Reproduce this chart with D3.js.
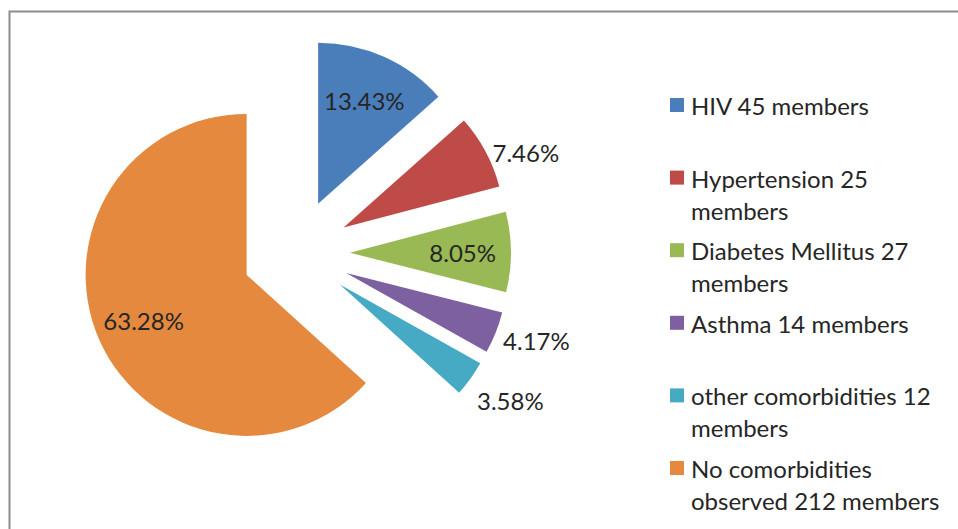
<!DOCTYPE html>
<html>
<head>
<meta charset="utf-8">
<script src="https://cdn.jsdelivr.net/npm/d3@7"></script>
<style>
    html, body { margin: 0; padding: 0; background: #fff; }
    svg { display: block; }
    text { font-family: Lato, "Open Sans", sans-serif; fill: #262626; }
</style>
</head>
<body>
<svg id="chart" width="958" height="529"></svg>
<script>
// values
const categories = ["HIV", "Hypertension", "Diabetes Mellitus", "Asthma", "other comorbidities", "No comorbidities observed"];
const members = [45, 25, 27, 14, 12, 212];
const percentLabels = ["13.43%", "7.46%", "8.05%", "4.17%", "3.58%", "63.28%"];
const colors = ["#4a7ebb", "#be4b48", "#98b954", "#7d60a0", "#46aac5", "#e4893d"];

const width = 958, height = 529;
const center = {x: 296, y: 253};
const radius = 161;
const explode = 54;
const fontSize = 24;

const svg = d3.select("#chart");

// frame (only top and left edges are visible in the crop)
svg.append("path")
    .attr("d", `M9.5,${height} V11.5 H${width}`)
    .attr("fill", "none")
    .attr("stroke", "#8c8c8c")
    .attr("stroke-width", 2);

const data = categories.map((c, i) => ({name: c, value: members[i], label: percentLabels[i], color: colors[i]}));

const pie = d3.pie().sort(null).value(d => d.value);
const arcs = pie(data);

const arc = d3.arc().innerRadius(0).outerRadius(radius);
const inLabel = d3.arc().innerRadius(radius * 0.7).outerRadius(radius * 0.7);
const outLabel = d3.arc().innerRadius(radius + 8).outerRadius(radius + 8);

const shift = d => {
    const mid = (d.startAngle + d.endAngle) / 2;
    return [explode * Math.sin(mid), -explode * Math.cos(mid)];
};

const g = svg.append("g")
    .attr("transform", "translate(" + center.x + "," + center.y + ")");

const slices = g.selectAll(".slice").data(arcs).enter().append("g")
    .classed("slice", true)
    .attr("transform", d => "translate(" + shift(d) + ")");

slices.append("path")
    .attr("d", arc)
    .attr("fill", d => d.data.color);

// small slices get their label outside, left edge sitting just past the rim
const isSmall = d => (d.endAngle - d.startAngle) / (2 * Math.PI) < 0.08;

arcs.forEach(d => {
    const s = shift(d);
    if (isSmall(d)) {
        const p = outLabel.centroid(d);
        d.lx = p[0] + s[0];
        d.ly = p[1] + s[1] + 5;
    } else {
        const p = inLabel.centroid(d);
        d.lx = p[0] + s[0];
        d.ly = p[1] + s[1];
    }
});

// push outside labels apart so they don't crowd each other
const outside = arcs.filter(isSmall).sort((a, b) => a.ly - b.ly);
for (let i = 1; i < outside.length; i++) {
    if (outside[i].ly - outside[i - 1].ly < 60) outside[i].ly = outside[i - 1].ly + 60;
}

g.selectAll(".pct").data(arcs).enter().append("text")
    .classed("pct", true)
    .attr("x", d => d.lx)
    .attr("y", d => d.ly)
    .attr("text-anchor", d => isSmall(d) ? "start" : "middle")
    .attr("dominant-baseline", "central")
    .style("font-size", fontSize + "px")
    .text(d => d.data.label);

// legend
const legendX = 670;
const y = d3.scalePoint().domain(categories).range([105, 468]);
const maxLine = 268;
const lineH = 32;

const legend = svg.append("g").classed("legend", true);
data.forEach(d => {
    const item = legend.append("g");
    item.append("rect")
        .attr("x", legendX)
        .attr("y", y(d.name) - 7)
        .attr("width", 14)
        .attr("height", 14)
        .attr("fill", d.color);

    const txt = item.append("text")
        .attr("x", legendX + 21)
        .attr("y", y(d.name))
        .attr("dominant-baseline", "central")
        .style("font-size", fontSize + "px");

    // word wrap like the original legend
    const words = (d.name + " " + d.value + " members").split(" ");
    let line = [];
    let tspan = txt.append("tspan").attr("x", legendX + 21).attr("dy", 0);
    words.forEach(w => {
        line.push(w);
        tspan.text(line.join(" "));
        if (tspan.node().getComputedTextLength() > maxLine && line.length > 1) {
            line.pop();
            tspan.text(line.join(" "));
            line = [w];
            tspan = txt.append("tspan").attr("x", legendX + 21).attr("dy", lineH).text(w);
        }
    });
});
</script>
</body>
</html>
